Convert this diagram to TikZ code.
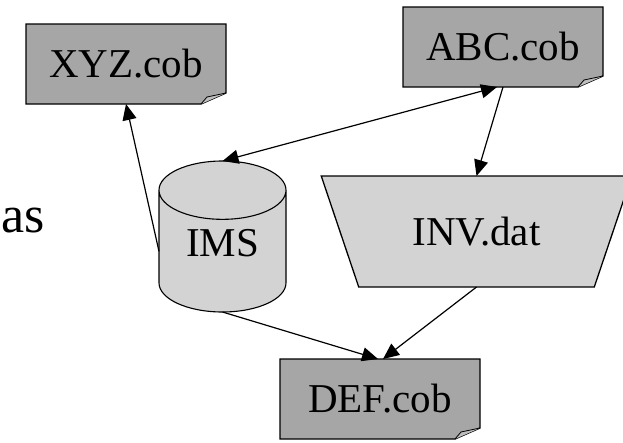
\documentclass[tikz,border=0pt]{standalone}
\usepackage{fontspec}
\setmainfont{Liberation Serif}
\usepackage{tikz}
\usetikzlibrary{shapes.geometric,arrows.meta,backgrounds,positioning}
\definecolor{filegray}{RGB}{166,166,166}
\definecolor{foldgray}{RGB}{190,190,190}
\definecolor{storegray}{RGB}{211,211,211}
\tikzset{%
    cobfile/.style={%
        rectangle, minimum width=200pt, minimum height=80pt, inner sep=0pt, outer sep=0pt,
        font=\fontsize{41}{46}\selectfont
    },
    database/.style={%
        cylinder, shape border rotate=90, aspect=0.8, draw, line width=1.1pt, fill=storegray,
        minimum width=127pt, minimum height=151pt, inner sep=0pt, outer sep=0pt, text depth=16pt,
        anchor=shape center, font=\fontsize{41}{46}\selectfont
    },
    datafile/.style={%
        trapezium, shape border rotate=180, trapezium stretches=true, trapezium angle=55,
        draw, line width=1.3pt, fill=storegray, minimum width=311pt, minimum height=111pt,
        inner sep=0pt, outer sep=0pt, font=\fontsize{41}{46}\selectfont
    },
    flow/.style={%
        -{Triangle[length=16pt,width=14pt]}, line width=1.2pt
    },
    bothflow/.style={%
        {Triangle[length=16pt,width=14pt]}-{Triangle[length=16pt,width=14pt]}, line width=1.2pt
    },
}
\begin{document}
\begin{tikzpicture}[x=1pt,y=-1pt]

    \useasboundingbox (0,0) rectangle (623,442);

    \node[anchor=base east, font=\fontsize{52}{56}\selectfont, inner sep=0pt] (has) at (45,232) {as};

    \node[cobfile] (xyz) at (126,64) {XYZ.cob};
    \node[cobfile] (abc) at (503,47) {ABC.cob};
    \node[cobfile] (def) at (380,399) {DEF.cob};

    \node[database] (ims) at (222.5,236.5) {IMS};
    \node[datafile] (inv) at (476.5,231.5) {INV.dat};

    \begin{scope}[on background layer]
      \foreach \f in {xyz,abc,def}{%
        \draw[fill=filegray, line width=1.3pt] (\f.north west) -- (\f.north east) -- ([yshift=11pt]\f.south east)
          -- ([xshift=-25pt]\f.south east) -- (\f.south west) -- cycle;
        \draw[fill=foldgray, line width=0.8pt] ([xshift=-25pt]\f.south east) -- ([xshift=-19pt,yshift=7pt]\f.south east)
          -- ([yshift=11pt]\f.south east);
      }
    \end{scope}

    \draw[flow] (ims.west) -- (xyz.south);
    \draw[bothflow] (ims.north) -- ([xshift=-6pt]abc.south);
    \draw[flow] (abc.south) -- (inv.north);
    \draw[flow] (ims.south) -- ([xshift=-2pt]def.north);
    \draw[flow] (inv.south) -- ([xshift=3pt]def.north);

  \end{tikzpicture}
\end{document}
